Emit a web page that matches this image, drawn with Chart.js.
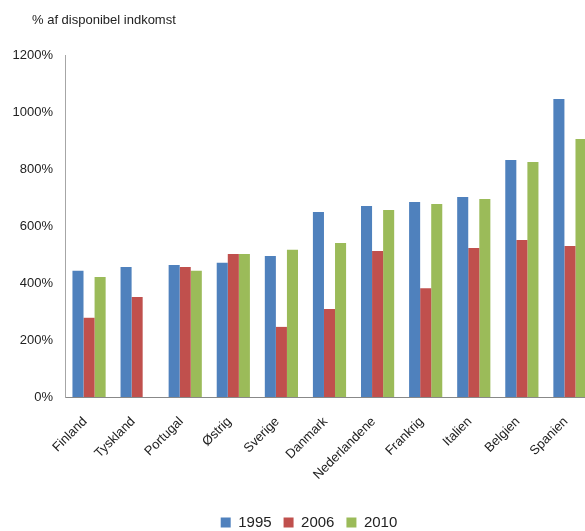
<!DOCTYPE html>
<html>
<head>
<meta charset="utf-8">
<script src="https://cdn.jsdelivr.net/npm/chart.js@4"></script>
<style>
    html, body { margin: 0; padding: 0; overflow: hidden; background: #fff; }
    #wrap { width: 594px; height: 540px; }
</style>
</head>
<body>
<div id="wrap"><canvas id="debtChart" width="594" height="540"></canvas></div>
<script>
const countries = ["Finland", "Tyskland", "Portugal", "Østrig", "Sverige", "Danmark",
    "Nederlandene", "Frankrig", "Italien", "Belgien", "Spanien"];
const years = ["1995", "2006", "2010"];
const values1995 = [443, 456, 463, 471, 495, 649, 670, 684, 702, 832, 1046];
const values2006 = [278, 351, 456, 502, 246, 309, 512, 382, 523, 551, 530];
const values2010 = [421, null, 443, 502, 517, 540, 656, 677, 695, 825, 905];
const yTicks = [0, 200, 400, 600, 800, 1000, 1200];
const colors = ["#4F81BD", "#C0504D", "#9BBB59"];

const font = "'Liberation Sans', Arial, sans-serif";

// axis title drawn in the top-left corner
const unitLabel = {
    id: "unitLabel",
    afterDraw(chart) {
        const ctx = chart.ctx;
        ctx.save();
        ctx.font = "13px " + font;
        ctx.fillStyle = "#222";
        ctx.textBaseline = "middle";
        ctx.textAlign = "left";
        ctx.fillText("% af disponibel indkomst", 32, 20);
        ctx.restore();
    },
};

// nudge the legend a bit to the right, like in the original
const legendShift = {
    id: "legendShift",
    afterLayout(chart) {
        if (chart.legend) {
            chart.legend.left += 12;
            chart.legend.right += 12;
        }
    },
};

const series = [values1995, values2006, values2010];

new Chart(document.getElementById("debtChart"), {
    type: "bar",
    data: {
        labels: countries,
        datasets: years.map((year, i) => ({
            label: year,
            data: series[i],
            backgroundColor: colors[i],
            borderWidth: 0,
            categoryPercentage: 0.69,
            barPercentage: 1.0,
        })),
    },
    options: {
        responsive: false,
        animation: false,
        layout: { padding: { top: 55, left: 0, right: 0, bottom: 0 } },
        plugins: {
            legend: {
                position: "bottom",
                labels: {
                    boxWidth: 10,
                    boxHeight: 10,
                    padding: 12,
                    color: "#222",
                    font: { family: font, size: 15 },
                },
            },
            tooltip: { enabled: false },
        },
        scales: {
            x: {
                grid: { display: false, drawTicks: false },
                border: { display: true, color: "#888", width: 1 },
                ticks: {
                    color: "#222",
                    font: { family: font, size: 13 },
                    minRotation: 45,
                    maxRotation: 45,
                    padding: 17,
                    labelOffset: -4,
                    autoSkip: false,
                },
                afterFit(scale) {
                    scale.height = 106;
                    scale.paddingRight = 0;
                },
            },
            y: {
                min: 0,
                max: 1200,
                afterBuildTicks(scale) {
                    scale.ticks = yTicks.map((v) => ({ value: v }));
                },
                grid: { display: false, drawTicks: false },
                border: { display: true, color: "#a6a6a6", width: 1 },
                ticks: {
                    color: "#222",
                    font: { family: font, size: 13 },
                    padding: 12,
                    callback: (v) => v + "%",
                },
                afterFit(scale) {
                    scale.width = 65;
                },
            },
        },
    },
    plugins: [unitLabel, legendShift],
});
</script>
</body>
</html>
